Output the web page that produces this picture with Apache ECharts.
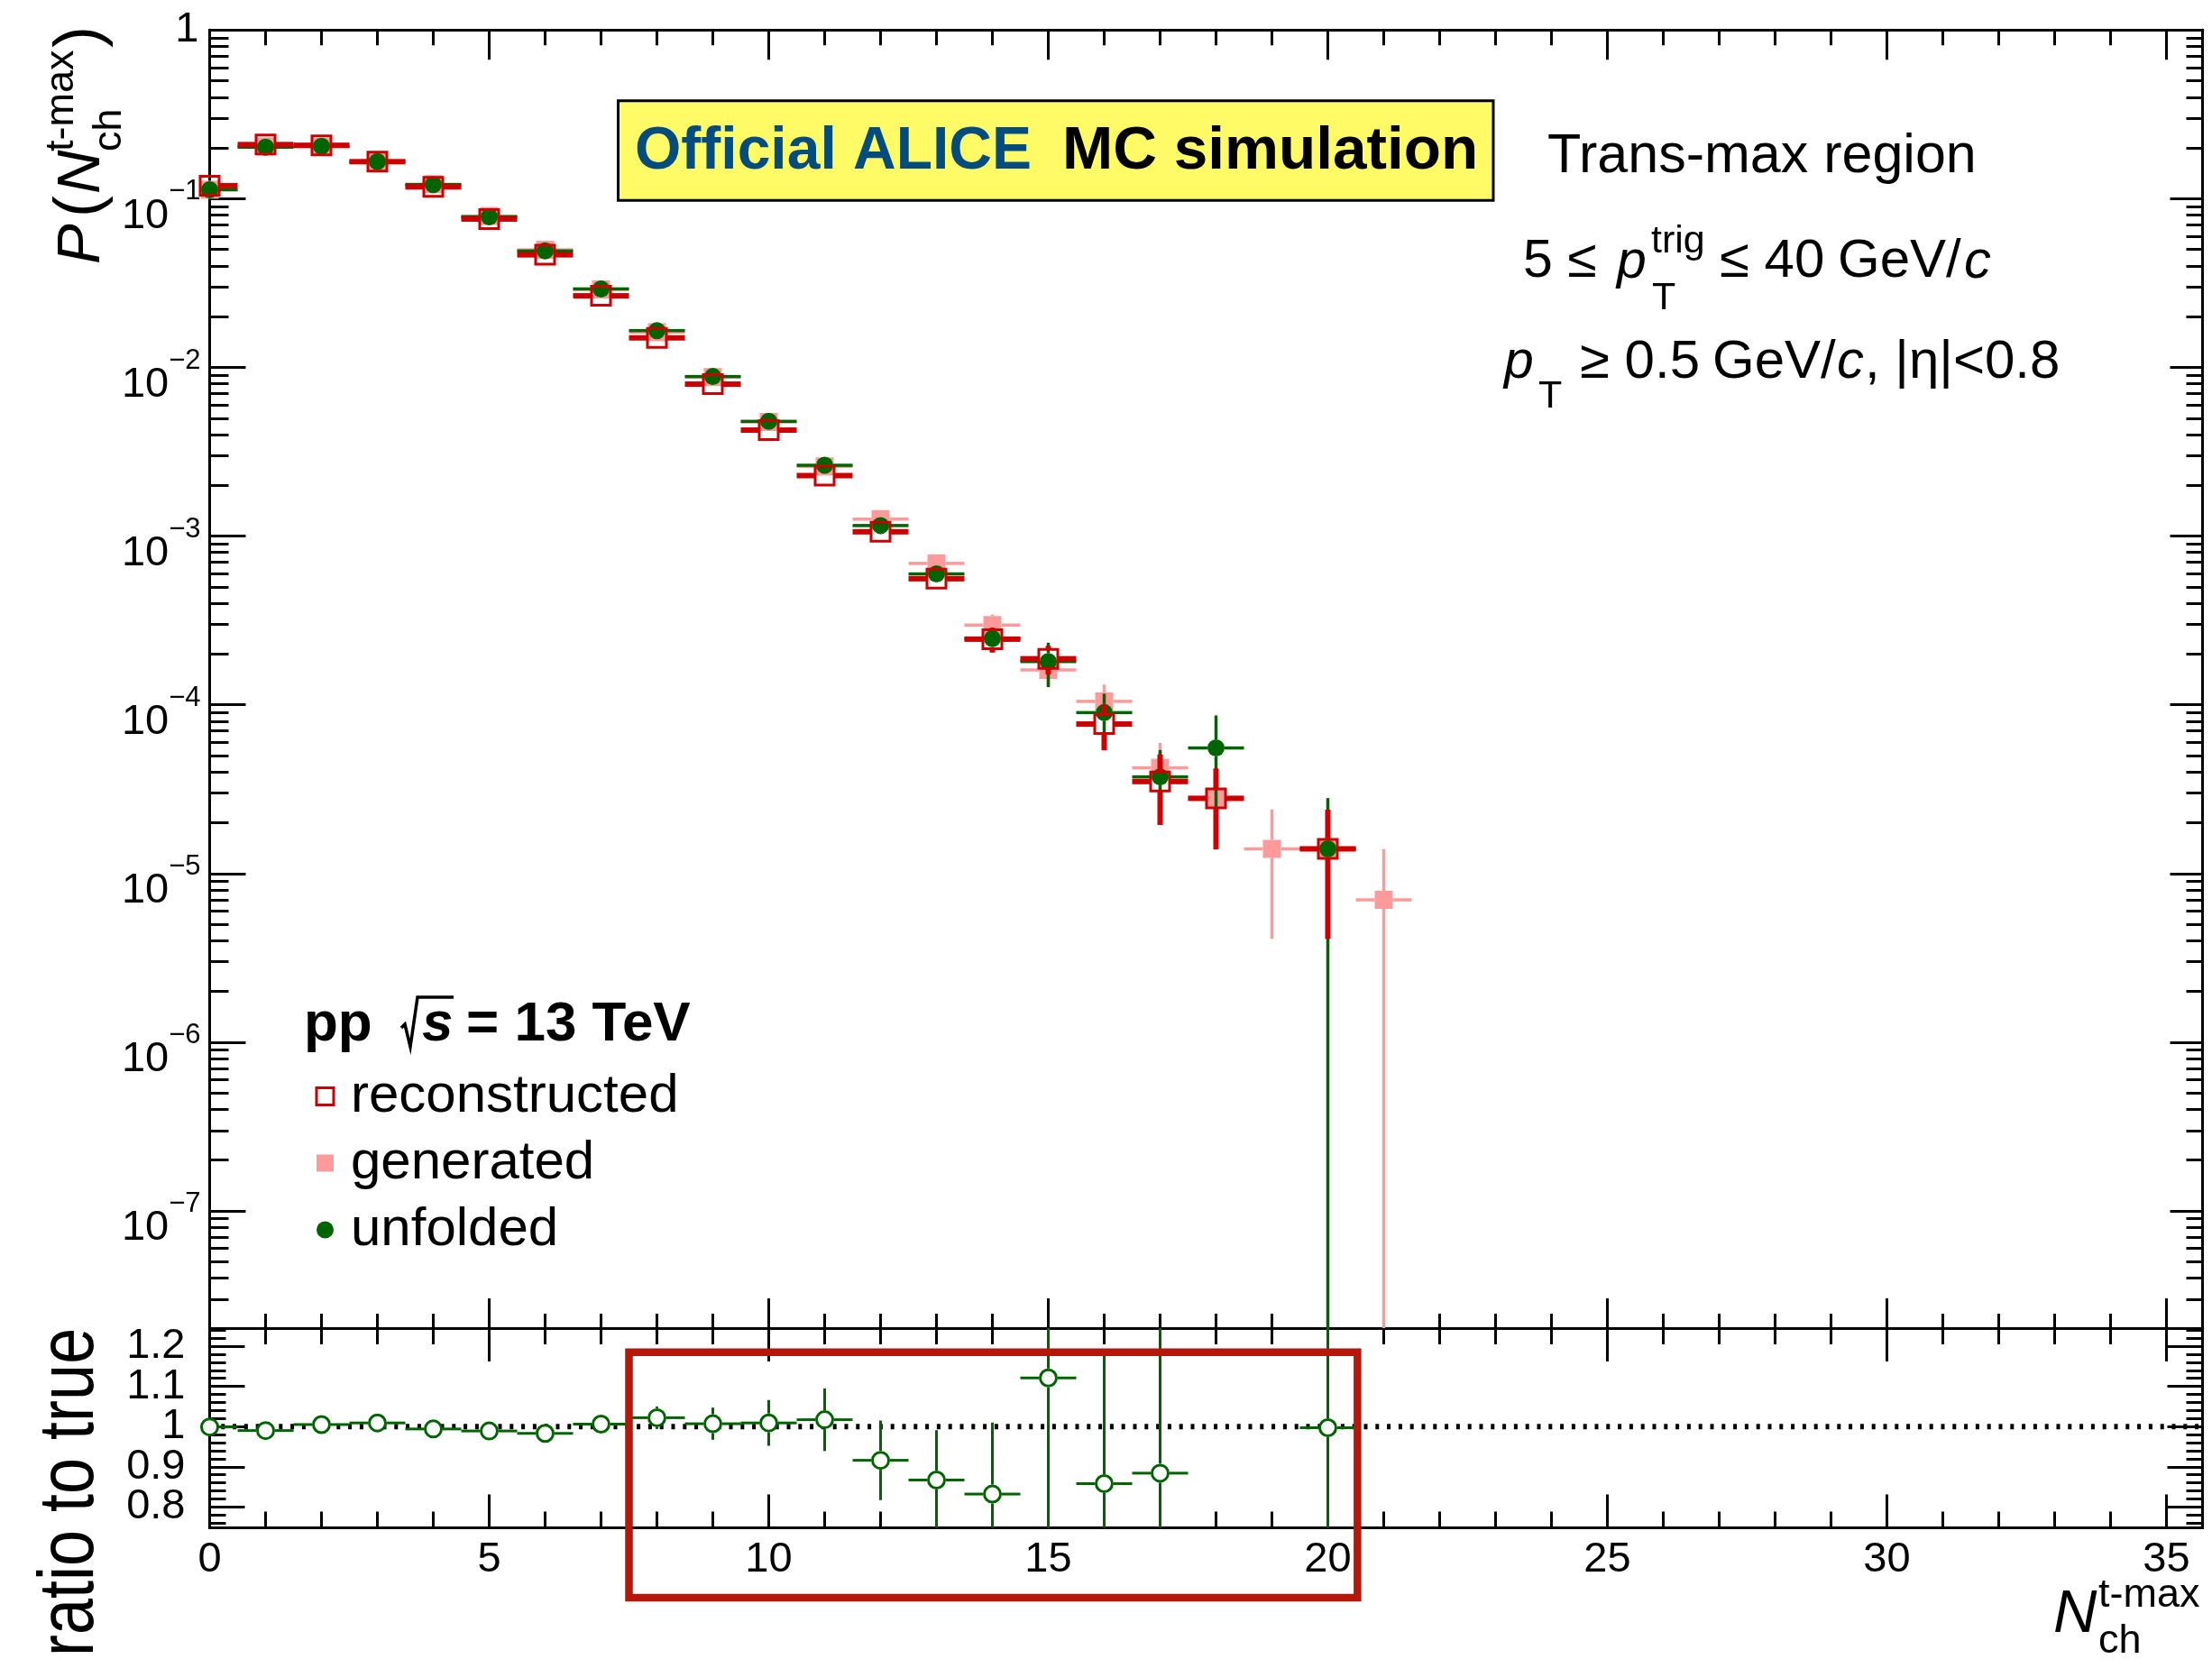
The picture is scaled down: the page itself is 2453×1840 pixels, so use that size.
<!DOCTYPE html>
<html>
<head>
<meta charset="utf-8">
<title>Trans-max multiplicity: reconstructed, generated and unfolded</title>
<script src="https://cdn.jsdelivr.net/npm/echarts@6/dist/echarts.min.js"></script>
<style>
  html, body { margin: 0; padding: 0; background: #ffffff; }
  #chart { width: 2453px; height: 1840px; }
</style>
</head>
<body>
<div id="chart"></div>
<script>
// ---------------------------------------------------------------------------
// Data: probability of N_ch^t-max in the trans-max region (pp, 13 TeV, MC)
// ---------------------------------------------------------------------------
const nch = [0, 1, 2, 3, 4, 5, 6, 7, 8, 9, 10, 11, 12, 13, 14, 15, 16, 17, 18, 19, 20, 21];

const reconstructed = [0.1195, 0.2094, 0.2073, 0.1658, 0.1175, 0.0758, 0.0465, 0.02657, 0.01497, 0.00796,
  0.00425, 0.002284, 0.001061, 0.000559, 0.000245, 0.0001875, 7.69e-5, 3.51e-5, 2.79e-5, null, 1.40e-5, null];
const reconstructedErr = [9.1e-4, 1.21e-3, 1.20e-3, 1.08e-3, 9.1e-4, 7.3e-4, 5.7e-4, 4.3e-4, 3.2e-4, 2.4e-4,
  1.7e-4, 1.26e-4, 8.6e-5, 6.2e-5, 4.1e-5, 3.6e-5, 2.32e-5, 1.57e-5, 1.40e-5, null, 9.9e-6, null];

const generated = [0.1131, 0.2040, 0.2035, 0.1645, 0.1219, 0.0790, 0.0498, 0.0290, 0.01617, 0.00877,
  0.00475, 0.00259, 0.001261, 0.000689, 0.000297, 0.000161, 1.048e-4, 4.23e-5, 2.79e-5, 1.40e-5, 1.40e-5, 6.98e-6];
const generatedErr = [8.9e-4, 1.19e-3, 1.19e-3, 1.07e-3, 9.2e-4, 7.4e-4, 5.9e-4, 4.5e-4, 3.4e-4, 2.5e-4,
  1.8e-4, 1.34e-4, 9.4e-5, 6.9e-5, 4.6e-5, 3.4e-5, 2.7e-5, 1.72e-5, 1.40e-5, 9.9e-6, 9.9e-6, 6.98e-6];

const unfolded = [0.1130, 0.2020, 0.2045, 0.1660, 0.1212, 0.0781, 0.0490, 0.0292, 0.01653, 0.00883,
  0.00479, 0.00263, 0.001155, 0.000597, 0.000247, 0.0001805, 8.99e-5, 3.74e-5, 5.55e-5, null, 1.40e-5, null];
const unfoldedErr = [1.5e-3, 2.0e-3, 2.0e-3, 1.8e-3, 1.6e-3, 1.2e-3, 8.0e-4, 5.5e-4, 3.5e-4, 2.7e-4,
  2.2e-4, 1.6e-4, 8.7e-5, 6.6e-5, 4.0e-5, 5.3e-5, 2.65e-5, 1.66e-5, 3.1e-5, null, 1.4e-5, null];

// unfolded / generated
const ratioToTrue = [0.999, 0.990, 1.005, 1.009, 0.994, 0.989, 0.983, 1.006, 1.022, 1.007,
  1.009, 1.017, 0.916, 0.867, 0.832, 1.121, 0.858, 0.884, null, null, 0.997, null];
const ratioErr = [0.008, 0.008, 0.008, 0.009, 0.010, 0.012, 0.015, 0.020, 0.028, 0.040,
  0.057, 0.078, 0.099, 0.124, 0.178, 0.40, 0.33, 0.53, null, null, 1.2, null];
const unityLevel = 1;

// Tick labels
const xTickLabels = [0, 5, 10, 15, 20, 25, 30, 35];
const decadeTicks = [1, 1e-1, 1e-2, 1e-3, 1e-4, 1e-5, 1e-6, 1e-7];
const ratioTickLabels = [0.8, 0.9, 1, 1.1, 1.2];

// Axis ranges
const X_MAX = 35.645;
const Y_MIN = 2.02e-8, Y_MAX = 1;
const R_MIN = 0.748, R_MAX = 1.245;

// ---------------------------------------------------------------------------
// Styling
// ---------------------------------------------------------------------------
const FONT = '"Liberation Sans", Arial, Helvetica, sans-serif';
const RED = '#cc0000';
const PINK = '#ff9a9a';
const GREEN = '#006400';
const BOX_RED = '#b5170b';
const MID = 0.347;   // offset of the canvas "middle" line above the alphabetic baseline, in em
const LABEL_SIZE = 47;
const EXP_SIZE = 31;

// Minor tick positions
const xMinorTicks = [];
for (let i = 1; i < 36; i++) if (i % 5 !== 0) xMinorTicks.push(i);
const logMinorTicks = [];
for (let e = -8; e <= -1; e++) {
  for (let k = 2; k <= 9; k++) {
    const v = k * Math.pow(10, e);
    if (v > Y_MIN && v < Y_MAX) logMinorTicks.push(v);
  }
}
const ratioMinorTicks = [];
for (let v = 76; v <= 124; v += 2) if (v % 10 !== 0) ratioMinorTicks.push(v / 100);

// Ratio labels are split over two coincident axes so that none gets hidden
const ratioLabelsA = ratioTickLabels.filter((v, i) => i % 2 === 0);
const ratioLabelsB = ratioTickLabels.filter((v, i) => i % 2 === 1);

// ---------------------------------------------------------------------------
// Axes
// ---------------------------------------------------------------------------
const axisLineStyle = { color: '#000', width: 3 };

function xAxisDef(gridIndex, position, ticks, len, label) {
  return {
    type: 'value', gridIndex, position, min: 0, max: X_MAX,
    axisLine: { show: true, onZero: false, lineStyle: axisLineStyle },
    axisTick: { show: true, inside: true, length: len, customValues: ticks, lineStyle: axisLineStyle },
    axisLabel: label || { show: false },
    splitLine: { show: false }, minorTick: { show: false }, minorSplitLine: { show: false }
  };
}

function yAxisDef(gridIndex, position, type, min, max, ticks, len, label) {
  const a = {
    type, gridIndex, position, min, max,
    axisLine: { show: true, onZero: false, lineStyle: axisLineStyle },
    axisTick: { show: true, inside: true, length: len, customValues: ticks, lineStyle: axisLineStyle },
    axisLabel: label || { show: false },
    splitLine: { show: false }, minorTick: { show: false }, minorSplitLine: { show: false }
  };
  if (type === 'log') a.logBase = 10;
  return a;
}

const xLabel = {
  show: true, customValues: xTickLabels, margin: 12, showMinLabel: true, showMaxLabel: true,
  fontSize: LABEL_SIZE, fontFamily: FONT, color: '#000',
  formatter: v => String(v)
};
const decadeLabel = {
  show: true, customValues: decadeTicks.slice(1), margin: 10, showMinLabel: true, showMaxLabel: true,
  padding: [20, 0, 0, 0],
  formatter: v => '{b|10}{e|\u2212' + Math.round(-Math.log10(v)) + '}',
  rich: {
    b: { fontSize: LABEL_SIZE, lineHeight: 66, verticalAlign: 'bottom', fontFamily: FONT, color: '#000' },
    e: { fontSize: EXP_SIZE, lineHeight: 32, verticalAlign: 'top', fontFamily: FONT, color: '#000' }
  }
};
const unitLabel = {
  show: true, customValues: [1], margin: 12, showMinLabel: true, showMaxLabel: true,
  fontSize: LABEL_SIZE, fontFamily: FONT, color: '#000',
  formatter: () => '1'
};
function ratioLabel(values) {
  return {
    show: true, customValues: values, margin: 27, showMinLabel: true, showMaxLabel: true,
    hideOverlap: false, padding: [7, 0, 0, 0],
    fontSize: LABEL_SIZE, lineHeight: 40, fontFamily: FONT, color: '#000',
    formatter: v => String(v)
  };
}

const xAxes = [
  xAxisDef(0, 'bottom', xTickLabels, 33),
  xAxisDef(0, 'bottom', xMinorTicks, 16),
  xAxisDef(0, 'top', xTickLabels, 33),
  xAxisDef(0, 'top', xMinorTicks, 17),
  xAxisDef(1, 'bottom', xTickLabels, 37, xLabel),
  xAxisDef(1, 'bottom', xMinorTicks, 18),
  xAxisDef(1, 'top', xTickLabels, 37),
  xAxisDef(1, 'top', xMinorTicks, 18)
];
const yAxes = [
  yAxisDef(0, 'left', 'log', Y_MIN, Y_MAX, decadeTicks, 40, decadeLabel),
  yAxisDef(0, 'left', 'log', Y_MIN, Y_MAX, logMinorTicks, 21, unitLabel),
  yAxisDef(0, 'right', 'log', Y_MIN, Y_MAX, decadeTicks, 36),
  yAxisDef(0, 'right', 'log', Y_MIN, Y_MAX, logMinorTicks, 18),
  yAxisDef(1, 'left', 'value', R_MIN, R_MAX, ratioTickLabels, 39, ratioLabel(ratioLabelsA)),
  yAxisDef(1, 'left', 'value', R_MIN, R_MAX, ratioMinorTicks, 18, ratioLabel(ratioLabelsB)),
  yAxisDef(1, 'right', 'value', R_MIN, R_MAX, ratioTickLabels, 39),
  yAxisDef(1, 'right', 'value', R_MIN, R_MAX, ratioMinorTicks, 18)
];

// ---------------------------------------------------------------------------
// Error-bar renderer: bin-width horizontal bar, vertical error, marker on top
// ---------------------------------------------------------------------------
function points(values, errors) {
  const out = [];
  nch.forEach((n, i) => {
    if (values[i] != null) out.push([n, values[i], errors[i] || 0]);
  });
  return out;
}

function errorBarRenderer(cfg) {
  return function (params, api) {
    const n = api.value(0), v = api.value(1), err = api.value(2);
    const cs = params.coordSys;
    const top = cs.y, bottom = cs.y + cs.height, left = cs.x, right = cs.x + cs.width;
    const c = api.coord([n, v]);
    const xl = Math.max(api.coord([n - 0.5, v])[0], left);
    const xr = Math.min(api.coord([n + 0.5, v])[0], right);
    const hiVal = v + err, loVal = v - err;
    const yHi = Math.max(api.coord([n, hiVal])[1], top);
    const yLo = loVal > cfg.floor ? Math.min(api.coord([n, loVal])[1], bottom) : bottom;
    const h = cfg.gap;
    const ls = { stroke: cfg.color, lineWidth: cfg.lineWidth };
    const children = [];
    if (c[0] - h > xl) children.push({ type: 'line', shape: { x1: xl, y1: c[1], x2: c[0] - h, y2: c[1] }, style: ls });
    if (xr > c[0] + h) children.push({ type: 'line', shape: { x1: c[0] + h, y1: c[1], x2: xr, y2: c[1] }, style: ls });
    if (c[1] - h > yHi) children.push({ type: 'line', shape: { x1: c[0], y1: c[1] - h, x2: c[0], y2: yHi }, style: ls });
    if (yLo > c[1] + h) children.push({ type: 'line', shape: { x1: c[0], y1: c[1] + h, x2: c[0], y2: yLo }, style: ls });
    children.push(cfg.marker(c));
    return { type: 'group', children };
  };
}

const series = [
  {
    type: 'custom', name: 'generated', xAxisIndex: 0, yAxisIndex: 0, z: 2,
    itemStyle: { color: PINK },
    data: points(generated, generatedErr),
    renderItem: errorBarRenderer({
      color: PINK, lineWidth: 3.5, gap: 10, floor: Y_MIN,
      marker: c => ({ type: 'rect', shape: { x: c[0] - 10, y: c[1] - 10, width: 20, height: 20 }, style: { fill: PINK } })
    })
  },
  {
    type: 'custom', name: 'unfolded', xAxisIndex: 0, yAxisIndex: 0, z: 3,
    itemStyle: { color: GREEN },
    data: points(unfolded, unfoldedErr),
    renderItem: errorBarRenderer({
      color: GREEN, lineWidth: 3.5, gap: 9.5, floor: Y_MIN,
      marker: c => ({ type: 'circle', shape: { cx: c[0], cy: c[1], r: 9.5 }, style: { fill: GREEN } })
    })
  },
  {
    type: 'custom', name: 'reconstructed', xAxisIndex: 0, yAxisIndex: 0, z: 4,
    itemStyle: { color: RED },
    data: points(reconstructed, reconstructedErr),
    renderItem: errorBarRenderer({
      color: RED, lineWidth: 6, gap: 11, floor: Y_MIN,
      marker: c => ({ type: 'rect', shape: { x: c[0] - 10.5, y: c[1] - 10.5, width: 21, height: 21 }, style: { fill: null, stroke: RED, lineWidth: 3 } })
    })
  },
  {
    type: 'custom', name: 'unity', xAxisIndex: 4, yAxisIndex: 4, z: 2, silent: true,
    data: [[0, unityLevel]],
    renderItem: (params, api) => {
      const cs = params.coordSys;
      const p = api.coord([api.value(0), api.value(1)]);
      return { type: 'line', shape: { x1: p[0], y1: p[1], x2: cs.x + cs.width, y2: p[1] },
        style: { stroke: '#000', lineWidth: 6, lineDash: [4, 8.8] } };
    }
  },
  {
    type: 'custom', name: 'ratio to true', xAxisIndex: 4, yAxisIndex: 4, z: 3,
    itemStyle: { color: GREEN },
    data: points(ratioToTrue, ratioErr),
    renderItem: errorBarRenderer({
      color: GREEN, lineWidth: 3, gap: 10.5, floor: -Infinity,
      marker: c => ({ type: 'circle', shape: { cx: c[0], cy: c[1], r: 9 }, style: { fill: '#fff', stroke: GREEN, lineWidth: 3 } })
    })
  }
];

// ---------------------------------------------------------------------------
// Text annotations
// ---------------------------------------------------------------------------
function textEl(id, x, baseline, text, size, extra) {
  return {
    type: 'text', id, x, y: baseline - MID * size, silent: true, z: 50,
    style: Object.assign({ text, fontSize: size, fontFamily: FONT, fill: '#000', align: 'left', verticalAlign: 'middle' }, extra || {})
  };
}
const ital = { fontStyle: 'italic' };
const bold = { fontWeight: 'bold' };

const graphics = [
  // ALICE label box
  { type: 'rect', id: 'aliceBox', z: 40, silent: true,
    shape: { x: 685.5, y: 111.7, width: 970.5, height: 110.6 },
    style: { fill: '#fefb66', stroke: '#000', lineWidth: 3 } },
  textEl('aliceA', 704, 191.7, 'Official ALICE', 66, { fontWeight: 'bold', fill: '#034c80' }),
  textEl('aliceB', 1178, 191.7, 'MC simulation', 67.5, bold),

  // Region and selection
  textEl('region', 1716, 195, 'Trans-max region', 61),
  textEl('l1a', 1689, 311.7, '5 \u2264', 59),
  textEl('l1p', 1793, 311.7, 'p', 59, ital),
  textEl('l1T', 1832, 346, 'T', 43),
  textEl('l1trig', 1831, 283, 'trig', 43),
  textEl('l1b', 1907, 311.7, '\u2264 40', 60),
  textEl('l1c', 2038, 311.7, 'GeV/', 60),
  textEl('l1d', 2178, 311.7, 'c', 60, ital),
  textEl('l2p', 1668, 423.3, 'p', 59, ital),
  textEl('l2T', 1706, 455, 'T', 43),
  textEl('l2b', 1752, 423.3, '\u2265 0.5', 60),
  textEl('l2c', 1899, 423.3, 'GeV/', 60),
  textEl('l2d', 2037, 423.3, 'c', 60, ital),
  textEl('l2e', 2068, 423.3, ', |\u03b7|<0.8', 60),

  // Collision system
  textEl('sysA', 337, 1158.3, 'pp', 62, bold),
  { type: 'polyline', id: 'sqrt', z: 50, silent: true,
    shape: { points: [[445, 1140], [449, 1136], [455, 1161], [463, 1106], [503, 1106]] },
    style: { stroke: '#000', lineWidth: 3.5, fill: null } },
  textEl('sysS', 468, 1158.3, 's', 62, { fontWeight: 'bold', fontStyle: 'italic' }),
  textEl('sysB', 517, 1158.3, '= 13 TeV', 62, bold),

  // y title, upper pad
  { type: 'group', id: 'yTitle', x: 115, y: 293, rotation: Math.PI / 2, silent: true,
    children: [
      textEl('ytP', 0, 0, 'P', 67, ital),
      textEl('ytL', 52, 0, '(', 72),
      textEl('ytN', 78, 0, 'N', 67, ital),
      textEl('ytSub', 125, 22, 'ch', 45),
      textEl('ytSup', 125, -31, 't-max', 45),
      textEl('ytR', 240, 0, ')', 72)
    ] },

  // y title, ratio pad
  { type: 'group', id: 'rTitle', x: 109, y: 1837, rotation: Math.PI / 2, scaleY: 1.2, silent: true,
    children: [ textEl('rt', 0, 0, 'ratio to true', 72) ] },

  // x title
  textEl('xtN', 2277, 1815, 'N', 67, ital),
  textEl('xtSup', 2327, 1785, 't-max', 45),
  textEl('xtSub', 2327, 1836, 'ch', 45)
];

// ---------------------------------------------------------------------------
const chart = echarts.init(document.getElementById('chart'), null, { renderer: 'canvas', width: 2453, height: 1840 });

chart.setOption({
  animation: false,
  backgroundColor: '#ffffff',
  grid: [
    { left: 232.5, top: 33.3, width: 2210, height: 1439.7, containLabel: false, outerBoundsMode: 'none' },
    { left: 232.5, top: 1473, width: 2210, height: 221.5, containLabel: false, outerBoundsMode: 'none' }
  ],
  xAxis: xAxes,
  yAxis: yAxes,
  legend: {
    orient: 'vertical', left: 349.5, top: 1186, padding: 0, itemGap: 14,
    itemWidth: 19, itemHeight: 19, selectedMode: false,
    textStyle: { fontSize: 60, fontFamily: FONT, color: '#000', padding: [0, 0, 14, 14] },
    data: [
      { name: 'reconstructed', icon: 'rect', itemStyle: { color: '#fff', borderColor: RED, borderWidth: 3 } },
      { name: 'generated', icon: 'rect', itemStyle: { color: PINK, borderWidth: 0 } },
      { name: 'unfolded', icon: 'circle', itemStyle: { color: GREEN, borderWidth: 0 } }
    ]
  },
  series,
  graphic: { elements: graphics }
});

// Highlight box around the high-multiplicity bins of the ratio pad
const boxLeft = chart.convertToPixel({ gridIndex: 1 }, [7.5, 1.185]);
const boxRight = chart.convertToPixel({ gridIndex: 1 }, [20.53, 1.185]);
chart.setOption({
  graphic: { elements: [
    { type: 'rect', id: 'rangeBox', z: 60, silent: true,
      shape: { x: boxLeft[0], y: boxLeft[1], width: boxRight[0] - boxLeft[0], height: 1772 - boxLeft[1] },
      style: { fill: null, stroke: BOX_RED, lineWidth: 8.5 } }
  ] }
});
</script>
</body>
</html>
